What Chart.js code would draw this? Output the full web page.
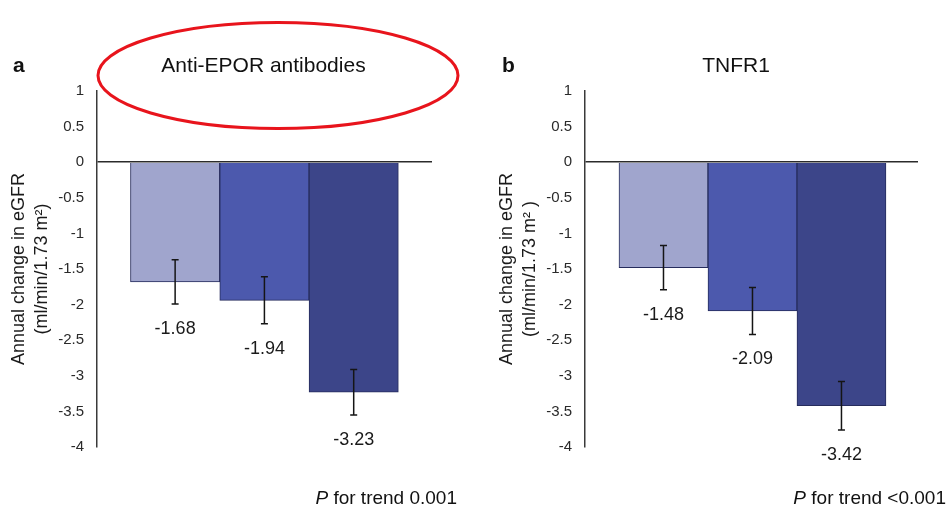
<!DOCTYPE html>
<html>
<head>
<meta charset="utf-8">
<script src="https://cdn.jsdelivr.net/npm/chart.js@4"></script>
<style>
  html, body { margin: 0; padding: 0; background: #fff; }
  #wrap { position: relative; width: 947px; height: 511px; overflow: hidden; }
  .panel { position: absolute; top: 0; height: 511px; }
  #pa { left: 0; width: 470px; }
  #pb { left: 480px; width: 467px; }
</style>
</head>
<body>
<div id="wrap">
  <div class="panel" id="pa"><canvas id="ca"></canvas></div>
  <div class="panel" id="pb"><canvas id="cb"></canvas></div>
</div>
<script>
// Tertile groups (one bar each), annual eGFR change and its standard error
const tertiles = ['Tertile 1', 'Tertile 2', 'Tertile 3'];
const epoValues = [-1.68, -1.94, -3.23];
const epoErrors = [0.31, 0.33, 0.32];
const tnfValues = [-1.48, -2.09, -3.42];
const tnfErrors = [0.31, 0.33, 0.34];
const yTickValues = [1, 0.5, 0, -0.5, -1, -1.5, -2, -2.5, -3, -3.5, -4];
const barColors = ['#a0a5cd', '#4c59ad', '#3c4589'];

const FAMILY = '"Liberation Sans", Arial, Helvetica, sans-serif';

// Error bars plus the value printed under each bar
const errorBars = {
  id: 'errorBars',
  afterDatasetsDraw(chart, args, opts) {
    const { ctx, scales: { x, y } } = chart;
    const pts = chart.data.datasets[0].data;
    ctx.save();
    pts.forEach((pt, i) => {
      const se = opts.errors[i];
      const px = x.getPixelForValue(pt.x);
      const hi = y.getPixelForValue(pt.y + se);
      const lo = y.getPixelForValue(pt.y - se);
      ctx.strokeStyle = '#151515';
      ctx.lineWidth = 1.5;
      ctx.beginPath();
      ctx.moveTo(px, hi); ctx.lineTo(px, lo);
      ctx.moveTo(px - 3.5, hi); ctx.lineTo(px + 3.5, hi);
      ctx.moveTo(px - 3.5, lo); ctx.lineTo(px + 3.5, lo);
      ctx.stroke();
      ctx.fillStyle = '#1a1a1a';
      ctx.font = '18px ' + FAMILY;
      ctx.textAlign = 'center';
      ctx.textBaseline = 'middle';
      ctx.fillText(pt.y.toFixed(2), px, lo + 25);
    });
    ctx.restore();
  }
};

// Panel letter, panel heading, optional highlight ring and trend p-value
const headers = {
  id: 'headers',
  afterDraw(chart, args, o) {
    const ctx = chart.ctx;
    ctx.save();
    ctx.fillStyle = '#111';
    ctx.textBaseline = 'alphabetic';
    ctx.font = 'bold 21px ' + FAMILY;
    ctx.textAlign = 'left';
    ctx.fillText(o.letter, o.letterX, 72);
    ctx.font = '21px ' + FAMILY;
    ctx.textAlign = 'center';
    ctx.fillText(o.title, o.titleX, 72);
    if (o.ring) {
      ctx.beginPath();
      ctx.ellipse(o.ring.x, o.ring.y, o.ring.rx, o.ring.ry, 0, 0, Math.PI * 2);
      ctx.strokeStyle = '#e8141c';
      ctx.lineWidth = 3;
      ctx.stroke();
    }
    ctx.font = '19px ' + FAMILY;
    const rest = ' for trend ' + o.trend;
    const wr = ctx.measureText(rest).width;
    ctx.textAlign = 'right';
    ctx.fillText(rest, o.trendRight, 504);
    ctx.font = 'italic 19px ' + FAMILY;
    ctx.fillText('P', o.trendRight - wr, 504);
    ctx.restore();
  }
};

function makePanel(canvasId, values, errors, cfg) {
  return new Chart(document.getElementById(canvasId), {
    type: 'bar',
    data: {
      labels: tertiles,
      datasets: [{
        data: values.map((v, i) => ({ x: i, y: v })),
        backgroundColor: barColors,
        borderColor: '#262c5c',
        borderWidth: 1,
        categoryPercentage: 1,
        barPercentage: 1
      }]
    },
    options: {
      responsive: true,
      maintainAspectRatio: false,
      animation: false,
      events: [],
      layout: { padding: { left: 0, top: 91, right: cfg.padRight, bottom: 64 } },
      plugins: {
        legend: { display: false },
        tooltip: { enabled: false },
        errorBars: { errors },
        headers: cfg.headers
      },
      scales: {
        x: {
          type: 'linear',
          display: false,
          offset: false,
          min: cfg.xMin,
          max: cfg.xMax,
          // one tick per group so each bar fills its whole slot
          afterBuildTicks: s => { s.ticks = tertiles.map((t, i) => ({ value: i })); }
        },
        y: {
          min: -4,
          max: 1,
          afterBuildTicks: s => { s.ticks = yTickValues.map(v => ({ value: v })); },
          afterFit: s => { s.width = cfg.axisWidth; },
          grid: {
            drawTicks: false,
            color: c => (c.tick && c.tick.value === 0 ? '#2b2b2b' : 'rgba(0,0,0,0)'),
            lineWidth: 1.5
          },
          border: { display: true, color: '#3a3a3a', width: 1.5 },
          ticks: {
            padding: 13,
            color: '#2a2a2a',
            font: { size: 15, family: FAMILY },
            callback: v => String(v)
          },
          title: {
            display: true,
            text: cfg.yTitle,
            color: '#1a1a1a',
            font: { size: 18, family: FAMILY, lineHeight: 1.25 },
            padding: { top: cfg.titlePad, bottom: 0 }
          }
        }
      }
    },
    plugins: [errorBars, headers]
  });
}

makePanel('ca', epoValues, epoErrors, {
  axisWidth: 97,
  padRight: 38,
  xMin: -0.875,
  xMax: 2.877,
  titlePad: 8,
  yTitle: ['Annual change in eGFR', '(ml/min/1.73 m²)'],
  headers: {
    letter: 'a', letterX: 13,
    title: 'Anti-EPOR antibodies', titleX: 263.5,
    ring: { x: 278, y: 75.5, rx: 180, ry: 53 },
    trend: '0.001', trendRight: 457
  }
});

makePanel('cb', tnfValues, tnfErrors, {
  axisWidth: 105,
  padRight: 29,
  xMin: -0.882,
  xMax: 2.86,
  titlePad: 16,
  yTitle: ['Annual change in eGFR', '(ml/min/1.73 m² )'],
  headers: {
    letter: 'b', letterX: 22,
    title: 'TNFR1', titleX: 256,
    ring: null,
    trend: '<0.001', trendRight: 466
  }
});
</script>
</body>
</html>
